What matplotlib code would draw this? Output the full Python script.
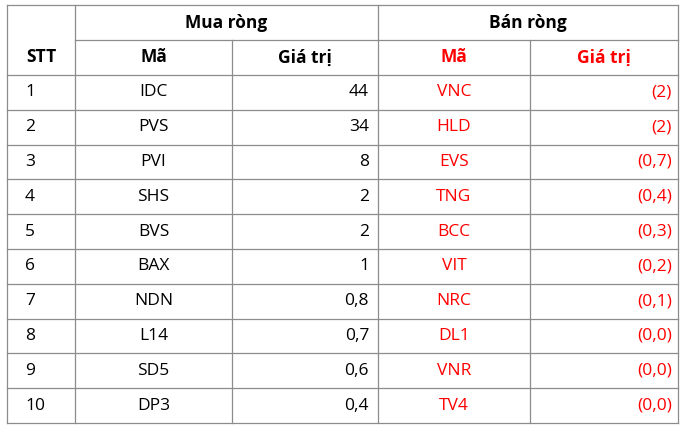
import matplotlib.pyplot as plt

stt = [str(i) for i in range(1, 11)]
buy_codes = ["IDC", "PVS", "PVI", "SHS", "BVS", "BAX", "NDN", "L14", "SD5", "DP3"]
buy_values = ["44", "34", "8", "2", "2", "1", "0,8", "0,7", "0,6", "0,4"]
sell_codes = ["VNC", "HLD", "EVS", "TNG", "BCC", "VIT", "NRC", "DL1", "VNR", "TV4"]
sell_values = ["(2)", "(2)", "(0,7)", "(0,4)", "(0,3)", "(0,2)", "(0,1)", "(0,0)", "(0,0)", "(0,0)"]

W, H = 682, 432
fig = plt.figure(figsize=(W / 100, H / 100), dpi=100)
ax = fig.add_axes([0, 0, 1, 1])
ax.set_xlim(0, W)
ax.set_ylim(H, 0)
ax.axis("off")

cols = [7, 75, 232, 378, 530, 678]
top, h1, h2 = 5, 40, 75
rh = 34.8
bottom = h2 + rh * 10
red = "#ff0000"
lc = "#8c8c8c"
fs = 12.5
font = "Open Sans"

# grid lines
for y in [top, h1, h2] + [h2 + rh * i for i in range(1, 11)]:
    x0 = cols[1] if y == h1 else cols[0]
    ax.plot([x0, cols[-1]], [y, y], color=lc, lw=0.9)
for x in cols:
    y0 = h1 if x in (cols[2], cols[4]) else top
    ax.plot([x, x], [y0, bottom], color=lc, lw=0.9)

def txt(x, y, s, ha="center", color="black", bold=False):
    ax.text(x, y, s, ha=ha, va="center", color=color, fontsize=fs,
            fontweight="bold" if bold else "normal", family=font)

txt((cols[1] + cols[3]) / 2, (top + h1) / 2, "Mua ròng", bold=True)
txt((cols[3] + cols[5]) / 2, (top + h1) / 2, "Bán ròng", bold=True)
hy = (h1 + h2) / 2
txt((cols[0] + cols[1]) / 2, hy, "STT", bold=True)
txt((cols[1] + cols[2]) / 2, hy, "Mã", bold=True)
txt((cols[2] + cols[3]) / 2, hy, "Giá trị", bold=True)
txt((cols[3] + cols[4]) / 2, hy, "Mã", color=red, bold=True)
txt((cols[4] + cols[5]) / 2, hy, "Giá trị", color=red, bold=True)

for i in range(10):
    y = h2 + rh * (i + 0.5)
    txt(cols[0] + 18, y, stt[i], ha="left")
    txt((cols[1] + cols[2]) / 2, y, buy_codes[i])
    txt(cols[3] - 9, y, buy_values[i], ha="right")
    txt((cols[3] + cols[4]) / 2, y, sell_codes[i], color=red)
    txt(cols[5] - 6, y, sell_values[i], ha="right", color=red)

fig.savefig("out.png", dpi=100, facecolor="white")
